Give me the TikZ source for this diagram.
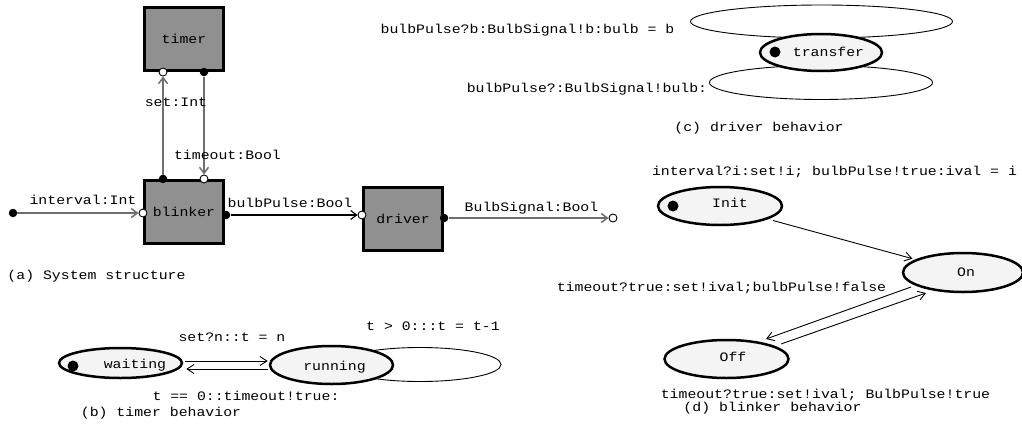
\documentclass[tikz,border=0pt]{standalone}
\usepackage{fontspec}
\setmonofont{Liberation Mono}[FakeStretch=1.15]
\usetikzlibrary{shapes.geometric,arrows.meta,calc}
\definecolor{compgray}{RGB}{144,144,144}
\definecolor{statefill}{RGB}{244,244,244}
\definecolor{wiregray}{RGB}{110,110,110}
\begin{document}
\begin{tikzpicture}[x=1pt,y=-1pt,
  lbl/.style={font=\ttfamily\fontsize{12.9}{15}\selectfont, inner sep=0pt, text height=8pt, text depth=1pt, anchor=center},
  comp/.style={draw=black, line width=2.6pt, fill=compgray, minimum width=79.5pt, minimum height=63.5pt, inner sep=0pt,
    font=\ttfamily\fontsize{12.9}{15}\selectfont},
  state/.style={ellipse, draw=black, line width=2.5pt, fill=statefill, inner sep=0pt},
  fport/.style={circle, fill=black, minimum size=8.5pt, inner sep=0pt},
  oport/.style={circle, draw=black, fill=white, line width=0.9pt, minimum size=8pt, inner sep=0pt},
  wire/.style={draw=wiregray, line width=1.5pt, -{Straight Barb[length=6pt,width=9pt]}},
  trans/.style={draw=black, line width=0.9pt, -{Straight Barb[length=7pt,width=9pt]}},
  loopline/.style={draw=black, line width=0.9pt},
  initdot/.style={circle, fill=black, minimum size=11pt, inner sep=0pt}
]
\useasboundingbox (0,0) rectangle (1022,423);

% ---------- (a) System structure ----------
\node[comp] (timer) at (184,39) {timer};
\node[comp] (blinker) at (184,212) {blinker};
\node[comp] (driver) at (403,219) {driver};

\node[oport] (tset) at ($(timer.south)+(-21,0)$) {};
\node[fport] (ttimeout) at ($(timer.south)+(20,0)$) {};
\node[fport] (bset) at ($(blinker.north)+(-21,0)$) {};
\node[oport] (btimeout) at ($(blinker.north)+(20,0)$) {};
\node[oport] (binterval) at ($(blinker.west)+(0,1)$) {};
\node[fport] (bpulse) at ($(blinker.east)+(1,3)$) {};
\node[oport] (dpulse) at ($(driver.west)+(0,-4)$) {};
\node[fport] (dsignal) at ($(driver.east)+(0,-1)$) {};
\node[fport] (src) at (13,213) {};
\node[oport] (sink) at (613,218) {};

\draw[wire] (bset) -- (tset);
\draw[wire] (ttimeout) -- (btimeout);
\draw[wire] (src) -- (binterval);
\draw[wire, draw=black, line width=1.1pt] (bpulse) -- (dpulse);
\draw[wire] (dsignal) -- (sink);

\node[lbl] (lint) at (83,201) {interval:Int};
\node[lbl] (lset) at (176,103) {set:Int};
\node[lbl] (ltime) at (227.5,156) {timeout:Bool};
\node[lbl] (lpulse) at (290,204) {bulbPulse:Bool};
\node[lbl] (lsig) at (531.5,208) {BulbSignal:Bool};
\node[lbl] (capa) at (96.5,276) {(a) System structure};

% ---------- (b) timer behavior ----------
\coordinate (runC) at (331.5,365);
\draw[loopline] ($(runC)+(88.5,-0.5)$) ellipse [x radius=81, y radius=17];
\node[state, minimum width=123pt, minimum height=30pt,
  label={[lbl,xshift=14.5pt,yshift=-2pt]center:waiting}] (waiting) at (120.5,363) {};
\node[initdot] (wdot) at (73,366) {};
\node[state, minimum width=123pt, minimum height=38pt,
  label={[lbl,xshift=3pt,yshift=-2pt]center:running}] (running) at (runC) {};

\draw[trans] ($(waiting.east)+(2,-2)$) -- ($(running.west)+(-1,-4)$);
\draw[trans] ($(running.west)+(-1,4)$) -- ($(waiting.east)+(3,6)$);

\node[lbl] (lsetn) at (232,338) {set?n::t = n};
\node[lbl] (lloop) at (433,327) {t > 0:::t = t-1};
\node[lbl] (lzero) at (246,397) {t == 0::timeout!true:};
\node[lbl] (capb) at (161,413) {(b) timer behavior};

% ---------- (c) driver behavior ----------
\coordinate (trC) at (821,52.5);
\draw[loopline] ($(trC)+(0.5,-31)$) ellipse [x radius=131, y radius=16.5];
\draw[loopline] ($(trC)+(0,30)$) ellipse [x radius=111.5, y radius=17];
\node[state, minimum width=122pt, minimum height=37pt,
  label={[lbl,xshift=7.5pt]center:transfer}] (transfer) at (trC) {};
\node[initdot] (tdot) at (775,52) {};

\node[lbl] (lb1) at (527.5,30) {bulbPulse?b:BulbSignal!b:bulb = b};
\node[lbl] (lb2) at (587,89) {bulbPulse?:BulbSignal!bulb:};
\node[lbl] (capc) at (759,128) {(c) driver behavior};

% ---------- (d) blinker behavior ----------
\node[state, minimum width=124pt, minimum height=38pt,
  label={[lbl,xshift=10pt,yshift=2pt]center:Init}] (Init) at (720,206) {};
\node[initdot] (idot) at (673,206) {};
\node[state, minimum width=120pt, minimum height=39pt,
  label={[lbl,xshift=3pt]center:On}] (On) at (963,272.5) {};
\node[state, minimum width=124pt, minimum height=38pt,
  label={[lbl,xshift=6.5pt,yshift=1pt]center:Off}] (Off) at (726.5,359) {};

\draw[trans, shorten <=5pt, shorten >=3pt] (Init) -- (On);
\draw[trans] ($(On.center)+(-52,14.5)$) -- ($(Off.center)+(39.5,-20)$);
\draw[trans] ($(Off.center)+(54.5,-15)$) -- ($(On.center)+(-37,20.5)$);

\node[lbl] (linit) at (834.5,172) {interval?i:set!i; bulbPulse!true:ival = i};
\node[lbl] (lfalse) at (721.5,288) {timeout?true:set!ival;bulbPulse!false};
\node[lbl] (ltrue) at (825.5,395) {timeout?true:set!ival; BulbPulse!true};
\node[lbl] (capd) at (772.5,408) {(d) blinker behavior};
\end{tikzpicture}
\end{document}
